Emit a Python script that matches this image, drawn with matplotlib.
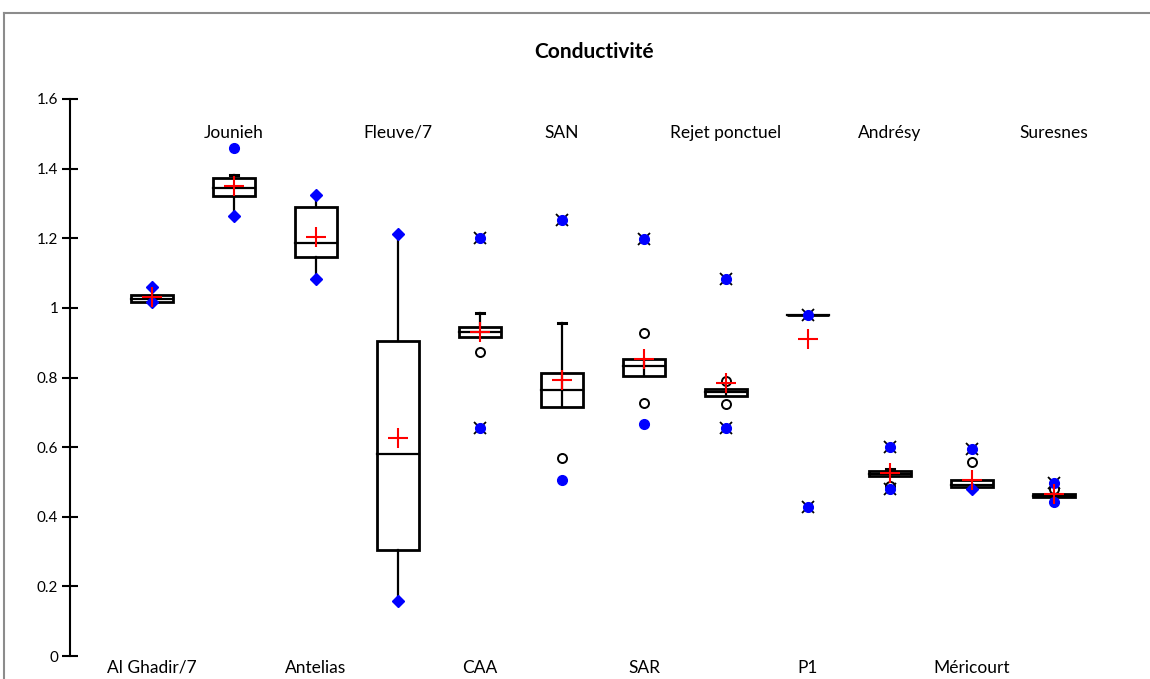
import numpy as np
import matplotlib
matplotlib.use("Agg")
import matplotlib.pyplot as plt
from matplotlib.patches import Rectangle
from matplotlib.lines import Line2D

plt.rcParams['font.family'] = ['Lato', 'DejaVu Sans']

# Box plot statistics
categories = ["Al Ghadir/7", "Jounieh", "Antelias", "Fleuve/7", "CAA", "SAN",
              "SAR", "Rejet ponctuel", "P1", "Andrésy", "Méricourt", "Suresnes"]
q1 = [1.016, 1.320, 1.147, 0.305, 0.916, 0.714, 0.803, 0.748, 0.979, 0.516, 0.486, 0.457]
median = [1.025, 1.344, 1.186, 0.580, 0.930, 0.763, 0.832, 0.758, 0.979, 0.524, 0.490, 0.461]
q3 = [1.038, 1.372, 1.291, 0.906, 0.945, 0.812, 0.854, 0.767, 0.979, 0.532, 0.507, 0.466]
mean = [1.030, 1.351, 1.205, 0.626, 0.930, 0.793, 0.853, 0.785, 0.910, 0.527, 0.507, 0.465]
whisker_lo = [1.016, 1.264, 1.083, 0.159, 0.916, 0.714, 0.803, 0.748, 0.979, 0.516, 0.486, 0.457]
whisker_hi = [1.038, 1.382, 1.323, 1.213, 0.985, 0.956, 0.854, 0.767, 0.979, 0.536, 0.507, 0.466]

# min / max points and outliers
diamonds = {1: [1.061, 1.016], 2: [1.264], 3: [1.083, 1.323], 4: [0.159, 1.213], 11: [0.479]}
dots = {2: [1.459], 6: [0.506], 7: [0.666], 12: [0.443]}
stars = {5: [0.656, 1.202], 6: [1.251], 7: [1.198], 8: [1.083, 0.656], 9: [0.979, 0.428],
         10: [0.599, 0.479], 11: [0.595], 12: [0.496]}
open_pts = {5: [0.874], 6: [0.570], 7: [0.929, 0.728], 8: [0.791, 0.723], 10: [0.489],
            11: [0.557], 12: [0.481]}

fig = plt.figure(figsize=(11.5, 6.79), dpi=100)
ax = fig.add_axes([70 / 1150, 23 / 679, 1066 / 1150, 557 / 679])

# outer grey frame (only top and left edges fall inside the image)
fx, fy = 4 / 1150, 1 - 13 / 679
fig.add_artist(Line2D([fx, 1.0], [fy, fy], transform=fig.transFigure, color="#8c8c8c", lw=1.5))
fig.add_artist(Line2D([fx, fx], [0.0, fy], transform=fig.transFigure, color="#8c8c8c", lw=1.5))

pos = np.arange(1, len(categories) + 1)
w = 0.52
lw = 1.6
cap = 0.1
inner = [6, 7, 8]

for i, x in enumerate(pos):
    # whiskers
    if whisker_hi[i] > q3[i]:
        ax.plot([x, x], [q3[i], whisker_hi[i]], color="black", lw=lw, zorder=2)
        if x not in diamonds or whisker_hi[i] not in diamonds[x]:
            ax.plot([x - cap / 2, x + cap / 2], [whisker_hi[i]] * 2, color="black", lw=lw + 0.6, zorder=2)
    if whisker_lo[i] < q1[i]:
        ax.plot([x, x], [whisker_lo[i], q1[i]], color="black", lw=lw, zorder=2)
    if x in inner:
        ax.plot([x, x], [q1[i], q3[i]], color="black", lw=lw, zorder=3)
    ax.add_patch(Rectangle((x - w / 2, q1[i]), w, q3[i] - q1[i], facecolor="none",
                           edgecolor="black", lw=lw + 0.4, zorder=3))
    ax.plot([x - w / 2, x + w / 2], [median[i]] * 2, color="black", lw=lw, zorder=3)

for x, vals in open_pts.items():
    ax.plot([x] * len(vals), vals, "o", ms=6.5, mfc="white", mec="black", mew=1.4, zorder=4)
for x, vals in diamonds.items():
    ax.plot([x] * len(vals), vals, "D", ms=6, mfc="blue", mec="blue", zorder=5)
for x, vals in dots.items():
    ax.plot([x] * len(vals), vals, "o", ms=7, mfc="blue", mec="blue", zorder=5)
for x, vals in stars.items():
    ax.plot([x] * len(vals), vals, "x", ms=8, color="black", mew=1.3, zorder=5)
    ax.plot([x] * len(vals), vals, "o", ms=7, mfc="blue", mec="blue", zorder=6)

ax.plot(pos, mean, "+", ms=14, color="red", mew=1.5, zorder=7)

# category labels, alternating bottom / top
for i, name in enumerate(categories):
    if i % 2 == 0:
        ax.text(pos[i], -0.034, name, ha="center", va="center", fontsize=12.5, clip_on=False)
    else:
        ax.text(pos[i], 1.503, name, ha="center", va="center", fontsize=12.5)

ax.set_xlim(0, 13)
ax.set_ylim(0, 1.6)
ax.set_yticks(np.arange(0, 1.61, 0.2))
ax.set_yticklabels(["0", "0.2", "0.4", "0.6", "0.8", "1", "1.2", "1.4", "1.6"], fontsize=11)
ax.set_xticks([])
for s in ["top", "right", "bottom"]:
    ax.spines[s].set_visible(False)
ax.spines["left"].set_linewidth(1.5)
ax.tick_params(axis="y", direction="inout", length=11, width=1.5, pad=3)

fig.text(594 / 1150, 1 - 52 / 679, "Conductivité", ha="center", va="center",
         fontsize=15, fontweight="bold")

fig.savefig("out.png", dpi=100)
